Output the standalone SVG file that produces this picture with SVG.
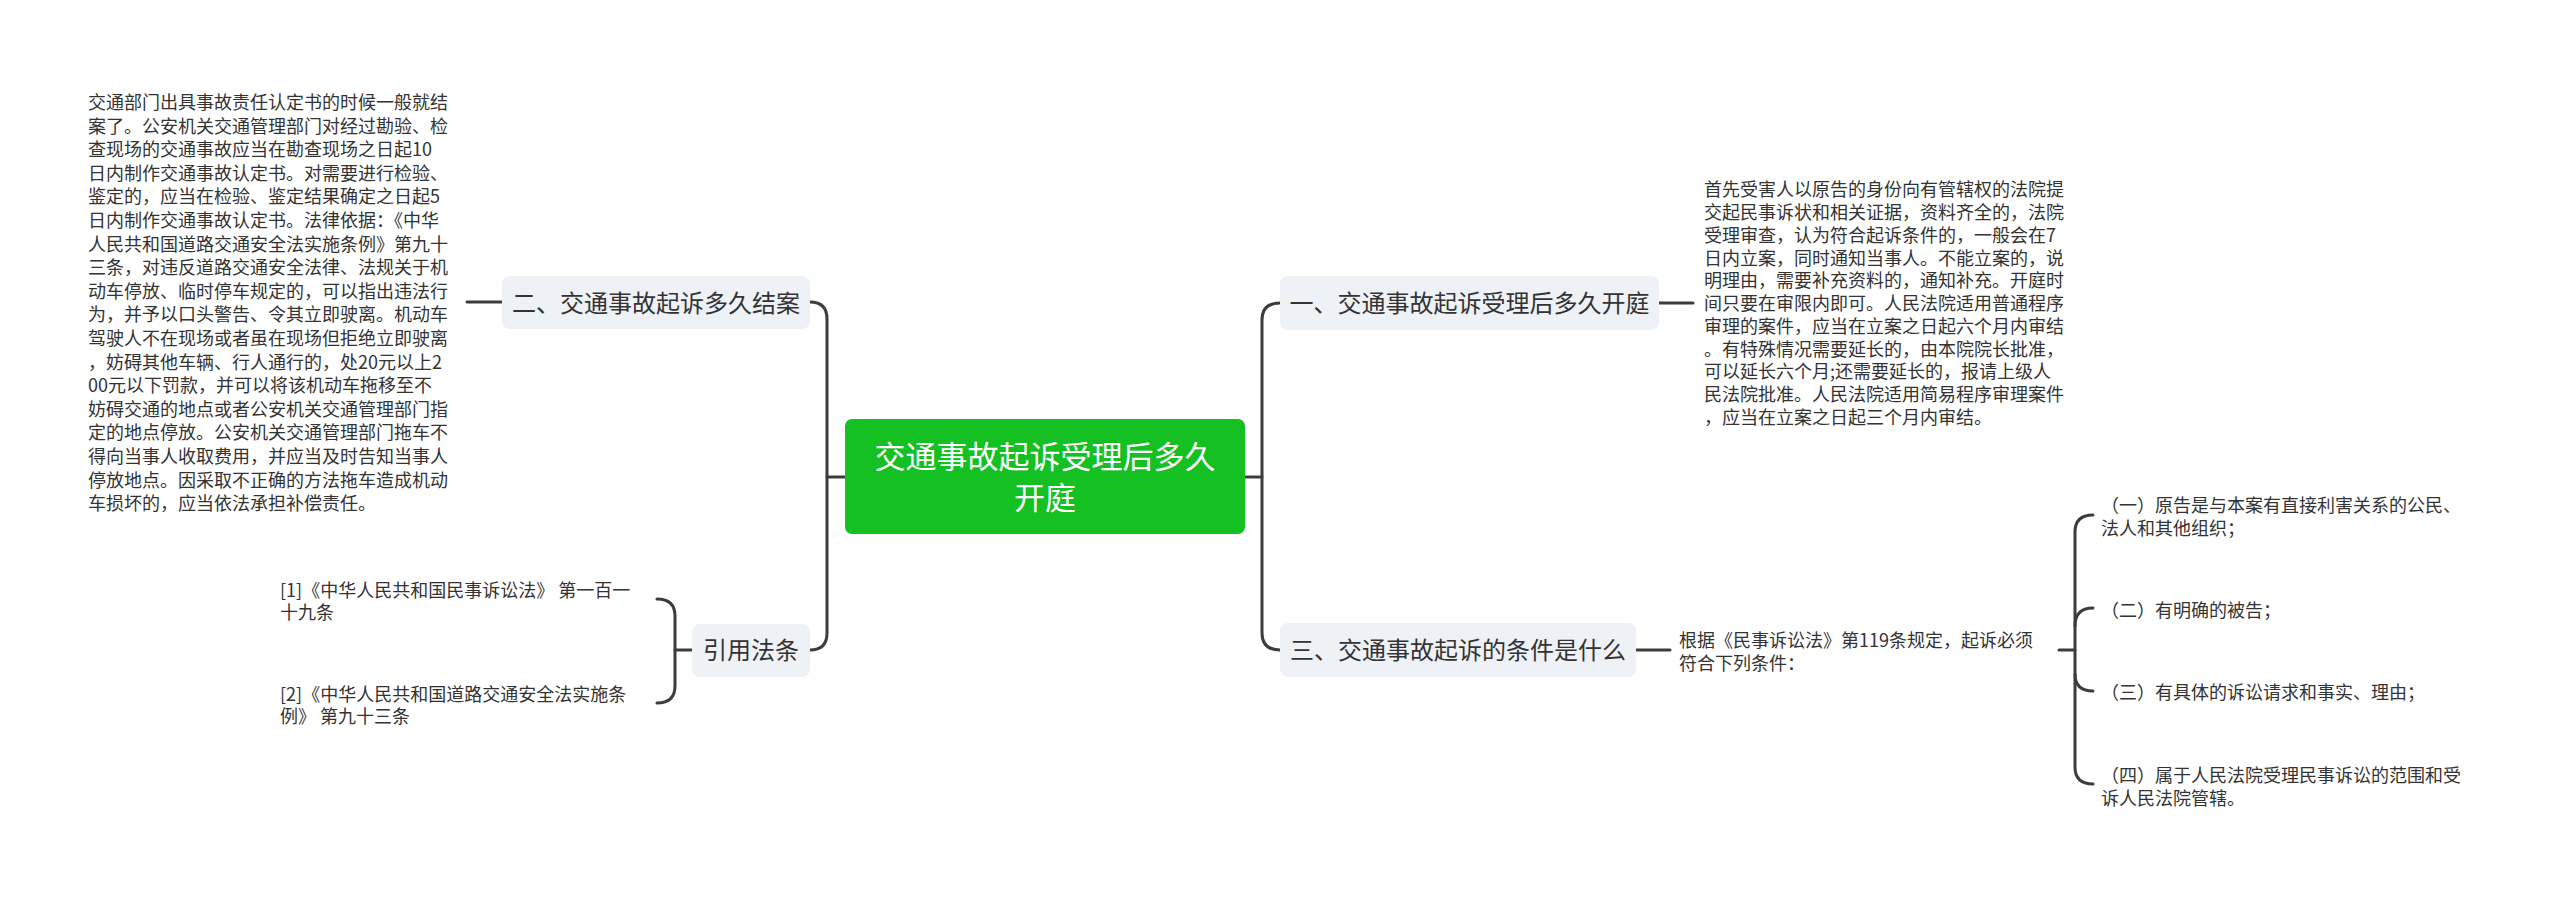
<svg xmlns="http://www.w3.org/2000/svg" width="2560" height="897" viewBox="0 0 2560 897">
<style>
.t{font-family:"Noto Sans CJK SC","Noto Sans",sans-serif;fill:#333333;font-size:18px}
.s{font-family:"Noto Sans CJK SC","Noto Sans",sans-serif;fill:#333333;font-size:24px;text-anchor:middle}
.r{font-family:"Noto Sans CJK SC","Noto Sans",sans-serif;fill:#ffffff;font-size:31px;text-anchor:middle}
.box{fill:#eef1f5}
.c{fill:none;stroke:#3c3c3c;stroke-width:3;stroke-linecap:round}
</style>
<rect width="2560" height="897" fill="#ffffff"/>
<g id="connectors">
<path class="c" d="M845,477 L827,477"/>
<path class="c" d="M810,302 Q827,302 827,319 L827,633 Q827,650 810,650"/>
<path class="c" d="M502,302 L467,302"/>
<path class="c" d="M692,650 L675,650"/>
<path class="c" d="M657,599 Q675,599 675,616 L675,686 Q675,703 657,703"/>
<path class="c" d="M1245,477 L1262,477"/>
<path class="c" d="M1280,303 Q1262,303 1262,320 L1262,633 Q1262,650 1280,650"/>
<path class="c" d="M1659,303 L1693,303"/>
<path class="c" d="M1636,650 L1670,650"/>
<path class="c" d="M2059,650 L2075,650"/>
<path class="c" d="M2093,515 Q2075,515 2075,532 L2075,767 Q2075,784 2093,784"/>
<path class="c" d="M2075,626 Q2075,608 2093,608"/>
<path class="c" d="M2075,674 Q2075,691 2093,691"/>
</g>
<g id="root">
<rect x="845" y="419" width="400" height="115" rx="7" fill="#14c022"/>
<text class="r" x="1045" y="468">交通事故起诉受理后多久</text>
<text class="r" x="1045" y="509">开庭</text>
</g>
<g id="node-2">
<rect class="box" x="502" y="276" width="308" height="53" rx="8"/>
<text class="s" x="656" y="312">二、交通事故起诉多久结案</text>
</g>
<g id="node-2-detail">
<text class="t" x="88" y="109">交通部门出具事故责任认定书的时候一般就结</text>
<text class="t" x="88" y="132.6">案了。公安机关交通管理部门对经过勘验、检</text>
<text class="t" x="88" y="156.2">查现场的交通事故应当在勘查现场之日起10</text>
<text class="t" x="88" y="179.8">日内制作交通事故认定书。对需要进行检验、</text>
<text class="t" x="88" y="203.4">鉴定的，应当在检验、鉴定结果确定之日起5</text>
<text class="t" x="88" y="227">日内制作交通事故认定书。法律依据：《中华</text>
<text class="t" x="88" y="250.6">人民共和国道路交通安全法实施条例》第九十</text>
<text class="t" x="88" y="274.2">三条，对违反道路交通安全法律、法规关于机</text>
<text class="t" x="88" y="297.8">动车停放、临时停车规定的，可以指出违法行</text>
<text class="t" x="88" y="321.4">为，并予以口头警告、令其立即驶离。机动车</text>
<text class="t" x="88" y="345">驾驶人不在现场或者虽在现场但拒绝立即驶离</text>
<text class="t" x="88" y="368.6">，妨碍其他车辆、行人通行的，处20元以上2</text>
<text class="t" x="88" y="392.2">00元以下罚款，并可以将该机动车拖移至不</text>
<text class="t" x="88" y="415.8">妨碍交通的地点或者公安机关交通管理部门指</text>
<text class="t" x="88" y="439.4">定的地点停放。公安机关交通管理部门拖车不</text>
<text class="t" x="88" y="463">得向当事人收取费用，并应当及时告知当事人</text>
<text class="t" x="88" y="486.6">停放地点。因采取不正确的方法拖车造成机动</text>
<text class="t" x="88" y="510.2">车损坏的，应当依法承担补偿责任。</text>
</g>
<g id="node-cite">
<rect class="box" x="692" y="624" width="118" height="53" rx="8"/>
<text class="s" x="751" y="659">引用法条</text>
</g>
<g id="cite-1">
<text class="t" x="280" y="597">[1]《中华人民共和国民事诉讼法》 第一百一</text>
<text class="t" x="280" y="619">十九条</text>
</g>
<g id="cite-2">
<text class="t" x="280" y="701">[2]《中华人民共和国道路交通安全法实施条</text>
<text class="t" x="280" y="723">例》 第九十三条</text>
</g>
<g id="node-1">
<rect class="box" x="1280" y="276" width="379" height="54" rx="8"/>
<text class="s" x="1469.5" y="312">一、交通事故起诉受理后多久开庭</text>
</g>
<g id="node-1-detail">
<text class="t" x="1704" y="196.3">首先受害人以原告的身份向有管辖权的法院提</text>
<text class="t" x="1704" y="219">交起民事诉状和相关证据，资料齐全的，法院</text>
<text class="t" x="1704" y="241.8">受理审查，认为符合起诉条件的，一般会在7</text>
<text class="t" x="1704" y="264.5">日内立案，同时通知当事人。不能立案的，说</text>
<text class="t" x="1704" y="287.3">明理由，需要补充资料的，通知补充。开庭时</text>
<text class="t" x="1704" y="310">间只要在审限内即可。人民法院适用普通程序</text>
<text class="t" x="1704" y="332.8">审理的案件，应当在立案之日起六个月内审结</text>
<text class="t" x="1704" y="355.5">。有特殊情况需要延长的，由本院院长批准，</text>
<text class="t" x="1704" y="378.3">可以延长六个月;还需要延长的，报请上级人</text>
<text class="t" x="1704" y="401">民法院批准。人民法院适用简易程序审理案件</text>
<text class="t" x="1704" y="423.8">，应当在立案之日起三个月内审结。</text>
</g>
<g id="node-3">
<rect class="box" x="1280" y="623" width="356" height="54" rx="8"/>
<text class="s" x="1458" y="659">三、交通事故起诉的条件是什么</text>
</g>
<g id="node-3-detail">
<text class="t" x="1679" y="647">根据《民事诉讼法》第119条规定，起诉必须</text>
<text class="t" x="1679" y="670.3">符合下列条件：</text>
</g>
<g id="cond-1">
<text class="t" x="2101" y="512">（一）原告是与本案有直接利害关系的公民、</text>
<text class="t" x="2101" y="535.3">法人和其他组织；</text>
</g>
<g id="cond-2">
<text class="t" x="2101" y="617">（二）有明确的被告；</text>
</g>
<g id="cond-3">
<text class="t" x="2101" y="699.3">（三）有具体的诉讼请求和事实、理由；</text>
</g>
<g id="cond-4">
<text class="t" x="2101" y="782">（四）属于人民法院受理民事诉讼的范围和受</text>
<text class="t" x="2101" y="805.3">诉人民法院管辖。</text>
</g>
</svg>
